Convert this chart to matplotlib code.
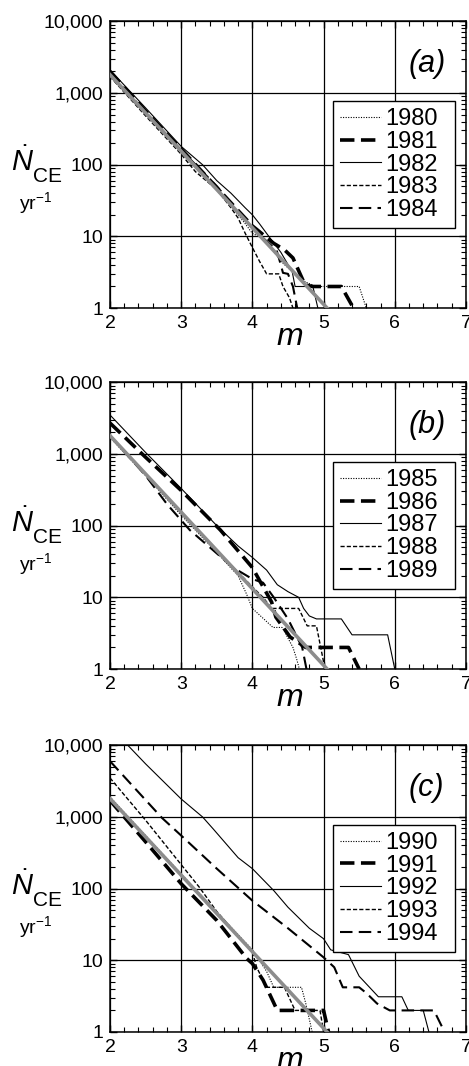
import numpy as np
import matplotlib
matplotlib.use("Agg")
import matplotlib.pyplot as plt
from matplotlib.ticker import FuncFormatter, MultipleLocator, LogLocator, NullFormatter

plt.rcParams['font.family'] = ['Liberation Sans', 'DejaVu Sans']
plt.rcParams['mathtext.fontset'] = 'custom'
plt.rcParams['mathtext.rm'] = 'Liberation Sans'
plt.rcParams['mathtext.it'] = 'Liberation Sans:italic'

#%% data
fit_m = [2.0, 5.05]
fit_n = [1800, 1]

# panel (a)
m_1980 = [2, 2.5, 3, 3.3, 3.6, 3.9, 4.0, 4.15, 4.43, 4.6, 4.75, 4.9, 5.5, 5.6]
n_1980 = [1700, 500, 150, 75, 35, 15, 11, 9.4, 4.2, 3, 2.3, 2, 2, 1]
m_1981 = [2, 2.5, 3, 3.5, 4.0, 4.3, 4.45, 4.57, 4.74, 4.85, 5.25, 5.42]
n_1981 = [2000, 560, 165, 48, 14, 8, 6.5, 5, 2.1, 2, 2, 1]
m_1982 = [2, 2.5, 3, 3.3, 3.5, 3.7, 3.9, 4.0, 4.1, 4.2, 4.4, 4.56, 4.6, 4.85, 4.92]
n_1982 = [2100, 620, 180, 100, 60, 40, 25, 20, 15, 11, 6, 3.2, 2, 2, 1]
m_1983 = [2, 2.5, 3, 3.2, 3.5, 3.7, 3.8, 3.9, 4.0, 4.1, 4.2, 4.37, 4.43, 4.52, 4.57]
n_1983 = [1700, 480, 140, 80, 45, 25, 18, 11, 7, 4.5, 3, 3, 2, 1.4, 1]
m_1984 = [2, 2.5, 3, 3.5, 4.0, 4.34, 4.38, 4.43, 4.5, 4.57, 4.63]
n_1984 = [1900, 540, 160, 50, 13, 6.4, 4.7, 3.1, 3.0, 2, 1]

# panel (b)
m_1985 = [2, 2.5, 3, 3.5, 3.8, 3.92, 4.0, 4.29, 4.42, 4.57, 4.62, 4.66]
n_1985 = [1700, 500, 140, 42, 20, 11, 7, 3.8, 3.8, 2, 1.4, 1]
m_1986 = [2, 2.5, 3, 3.55, 4.0, 4.27, 4.33, 4.53, 4.75, 5.35, 5.5]
n_1986 = [2700, 900, 310, 87, 26, 8.6, 5.3, 2.8, 2, 2, 1]
m_1987 = [2, 2.5, 3, 3.5, 3.8, 4.0, 4.2, 4.35, 4.5, 4.65, 4.72, 4.8, 4.9, 5.25, 5.4, 5.9, 6.0]
n_1987 = [3500, 1050, 330, 100, 52, 36, 24, 15, 12, 10, 7, 5.5, 5, 5, 3, 3, 1]
m_1988 = [2, 2.5, 3, 3.5, 4.0, 4.15, 4.27, 4.65, 4.77, 4.9, 5.02]
n_1988 = [1800, 520, 150, 45, 14, 10, 7, 7, 4, 4, 1]
m_1989 = [2, 2.5, 2.8, 3.12, 3.4, 3.73, 4.0, 4.15, 4.3, 4.5, 4.7, 4.76]
n_1989 = [1800, 500, 200, 87, 50, 26, 18, 16, 10, 5, 2, 1]

# panel (c)
m_1990 = [2, 2.5, 3, 3.5, 4.0, 4.2, 4.3, 4.69, 4.75, 4.84]
n_1990 = [1900, 550, 160, 47, 14, 7, 4.2, 4.2, 2.5, 1]
m_1991 = [2, 2.5, 3, 3.5, 3.64, 3.92, 4.0, 4.15, 4.35, 5.0, 5.07]
n_1991 = [1700, 450, 117, 36, 24, 10.6, 9, 5.3, 2, 2, 1]
m_1992 = [2.25, 2.5, 3.0, 3.3, 3.45, 3.8, 4.0, 4.3, 4.5, 4.8, 5.0, 5.1, 5.35, 5.5, 5.77, 6.1, 6.19, 6.4, 6.48]
n_1992 = [10000, 5500, 1780, 1000, 680, 270, 190, 94, 55, 28, 20, 14, 12, 6, 3.1, 3.1, 2, 2, 1]
m_1993 = [2, 2.5, 3.0, 3.26, 3.5, 4.0, 4.06, 4.2, 4.45, 4.6, 4.95, 5.0]
n_1993 = [3500, 900, 216, 103, 48, 13, 8, 4.2, 4.2, 2, 2, 1]
m_1994 = [2, 2.73, 3.0, 3.5, 4.0, 4.5, 5.0, 5.15, 5.27, 5.5, 5.6, 5.75, 5.93, 6.5, 6.55, 6.7]
n_1994 = [6000, 970, 550, 190, 68, 28, 11, 8, 4.2, 4.2, 3.5, 2.5, 2, 2, 2, 1]

styles = [
    dict(ls=(0, (1, 1.3)), lw=0.8),   # dotted
    dict(ls=(0, (4, 1.8)), lw=2.6),   # thick dashed
    dict(ls='-', lw=0.8),             # thin solid
    dict(ls=(0, (3, 1.5)), lw=1.0),   # short dashed
    dict(ls=(0, (6, 3)), lw=1.5),     # long dashed
]

panels = [
    ("(a)", [("1980", m_1980, n_1980), ("1981", m_1981, n_1981), ("1982", m_1982, n_1982),
             ("1983", m_1983, n_1983), ("1984", m_1984, n_1984)]),
    ("(b)", [("1985", m_1985, n_1985), ("1986", m_1986, n_1986), ("1987", m_1987, n_1987),
             ("1988", m_1988, n_1988), ("1989", m_1989, n_1989)]),
    ("(c)", [("1990", m_1990, n_1990), ("1991", m_1991, n_1991), ("1992", m_1992, n_1992),
             ("1993", m_1993, n_1993), ("1994", m_1994, n_1994)]),
]

#%% figure
fig = plt.figure(figsize=(4.69, 10.66), dpi=100)
bottoms = [0.711, 0.3724, 0.0319]

for (tag, series), b in zip(panels, bottoms):
    ax = fig.add_axes([0.2345, b, 0.759, 0.269])
    ax.set_yscale('log')
    ax.set_xlim(2, 7)
    ax.set_ylim(1, 10000)

    for (lab, mm, nn), st in zip(series, styles):
        ax.plot(mm, nn, color='black', label=lab, **st)
    ax.plot(fit_m, fit_n, color='#8c8c8c', lw=2.6, zorder=3)

    ax.grid(True, which='major', color='black', lw=0.9)
    ax.xaxis.set_major_locator(MultipleLocator(1))
    ax.xaxis.set_minor_locator(MultipleLocator(0.2))
    ax.yaxis.set_major_locator(LogLocator(base=10, numticks=10))
    ax.yaxis.set_minor_locator(LogLocator(base=10, subs=np.arange(2, 10), numticks=10))
    ax.yaxis.set_minor_formatter(NullFormatter())
    ax.yaxis.set_major_formatter(FuncFormatter(lambda v, p: "{:,}".format(int(round(v)))))
    ax.tick_params(which='both', direction='in', top=True, right=True, labelsize=14, pad=5)
    ax.tick_params(which='major', length=5, width=1)
    ax.tick_params(which='minor', length=3.5, width=0.8)
    for s in ax.spines.values():
        s.set_linewidth(1.1)

    leg = ax.legend(loc='upper left', bbox_to_anchor=(0.626, 0.279, 0.343, 0.443),
                    mode='expand', fontsize=17,
                    handlelength=1.75, handletextpad=0.15, labelspacing=0.03,
                    borderpad=0.3, borderaxespad=0, fancybox=False, framealpha=1,
                    edgecolor='black')
    leg.get_frame().set_linewidth(1.0)

    ax.text(0.89, 0.822, tag, transform=ax.transAxes, fontsize=22, style='italic',
            ha='center', va='baseline')
    ax.text(0.506, -0.129, 'm', transform=ax.transAxes, fontsize=23, style='italic',
            ha='center', va='baseline')
    ax.text(-0.212, 0.478, r'$\dot{N}$', transform=ax.transAxes, fontsize=21,
            ha='right', va='baseline')
    ax.text(-0.216, 0.438, 'CE', transform=ax.transAxes, fontsize=15,
            ha='left', va='baseline')
    ax.text(-0.21, 0.345, r'yr$^{\mathrm{-1}}$', transform=ax.transAxes, fontsize=14,
            ha='center', va='baseline')

fig.savefig("out.png", dpi=100)
